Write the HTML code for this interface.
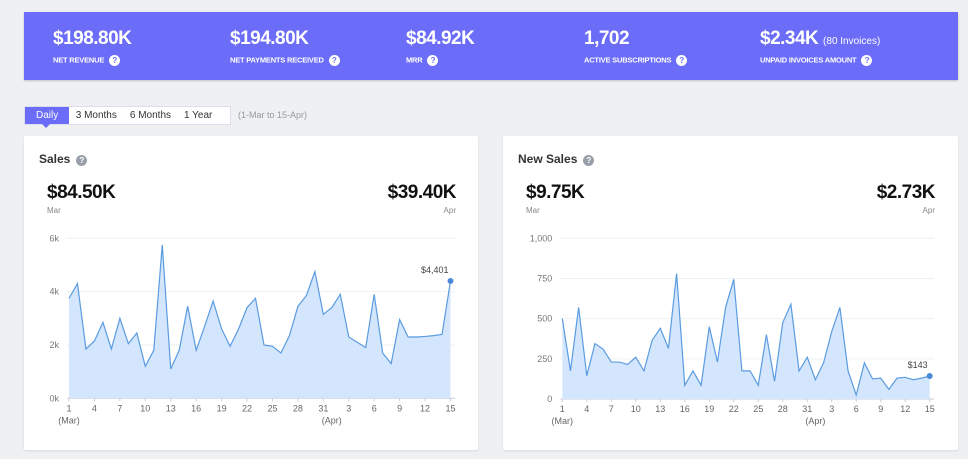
<!DOCTYPE html>
<html><head><meta charset="utf-8">
<style>
*{box-sizing:border-box;margin:0;padding:0}
body{width:968px;height:459px;background:#eef0f2;font-family:"Liberation Sans",sans-serif;position:relative;overflow:hidden;color:#222}
.abs{position:absolute}
.banner{left:24px;top:12px;width:934px;height:68px;background:#6b6cf7;box-shadow:0 1px 2px rgba(0,0,0,.2)}
.kv{position:absolute;top:16px;color:#fff;font-weight:bold;font-size:19px;letter-spacing:-.5px}
.kv small{font-size:10px;font-weight:normal;letter-spacing:0}
.kl{position:absolute;top:43px;color:#fff;font-weight:bold;font-size:7.5px;letter-spacing:-.2px;white-space:nowrap}
.q{display:inline-block;width:11px;height:11px;border-radius:50%;background:#fff;color:#6b6cf7;font-size:8px;text-align:center;line-height:11px;margin-left:5px;vertical-align:middle}
.tabs{left:24px;top:106px;height:19px;width:207px;background:#fff;border:1px solid #dde;font-size:10px;display:flex}
.tab{padding:0 6.5px;line-height:17px;color:#333;white-space:nowrap}
.tab.on{background:#6b6cf7;color:#fff;position:relative;padding:0 11px}
.tab.on:after{content:"";position:absolute;left:17px;top:17px;border:4px solid transparent;border-top-color:#6b6cf7}
.card{background:#fff;border-radius:2px;box-shadow:0 1px 2px rgba(0,0,0,.1)}
.ct{font-size:12px;font-weight:bold;color:#333}
.cq{display:inline-block;width:11px;height:11px;border-radius:50%;background:#9aa0aa;color:#fff;font-size:8px;text-align:center;line-height:11px;margin-left:6px}
.big{font-size:19px;font-weight:bold;color:#111;letter-spacing:-.5px}
.sm{font-size:8px;color:#888}
svg text{font-family:"Liberation Sans",sans-serif}
</style></head><body>
<div class="abs banner">
  <div class="kv" style="left:29px">$198.80K</div>
  <div class="kl" style="left:29px">NET REVENUE<span class="q">?</span></div>
  <div class="kv" style="left:206px">$194.80K</div>
  <div class="kl" style="left:206px">NET PAYMENTS RECEIVED<span class="q">?</span></div>
  <div class="kv" style="left:382px">$84.92K</div>
  <div class="kl" style="left:382px">MRR<span class="q">?</span></div>
  <div class="kv" style="left:560px">1,702</div>
  <div class="kl" style="left:560px">ACTIVE SUBSCRIPTIONS<span class="q">?</span></div>
  <div class="kv" style="left:736px">$2.34K <small>(80 Invoices)</small></div>
  <div class="kl" style="left:736px">UNPAID INVOICES AMOUNT<span class="q">?</span></div>
</div>
<div class="abs tabs">
  <div class="tab on">Daily</div>
  <div class="tab">3 Months</div>
  <div class="tab">6 Months</div>
  <div class="tab">1 Year</div>
</div>
<div class="abs" style="left:238px;top:110px;font-size:9px;color:#999">(1-Mar to 15-Apr)</div>

<div class="abs card" style="left:24px;top:136px;width:454px;height:314px"></div>
<div class="abs card" style="left:503px;top:136px;width:455px;height:314px"></div>
<div class="abs ct" style="left:39px;top:152px">Sales<span class="cq">?</span></div>
<div class="abs big" style="left:47px;top:182px">$84.50K</div>
<div class="abs sm" style="left:47px;top:206px">Mar</div>
<div class="abs big" style="right:512px;top:182px">$39.40K</div>
<div class="abs sm" style="right:512px;top:206px">Apr</div>
<div class="abs ct" style="left:518px;top:152px">New Sales<span class="cq">?</span></div>
<div class="abs big" style="left:526px;top:182px">$9.75K</div>
<div class="abs sm" style="left:526px;top:206px">Mar</div>
<div class="abs big" style="right:33px;top:182px">$2.73K</div>
<div class="abs sm" style="right:33px;top:206px">Apr</div>

<svg class="abs" style="left:0;top:0" width="968" height="459" id="charts"></svg>
<script>
const salesValues=[3.75,4.3,1.85,2.15,2.85,1.85,3.0,2.05,2.45,1.2,1.8,5.75,1.1,1.8,3.45,1.8,2.7,3.65,2.6,1.95,2.6,3.4,3.75,2.0,1.95,1.7,2.35,3.45,3.85,4.75,3.15,3.4,3.9,2.3,2.1,1.9,3.9,1.7,1.3,2.95,2.3,2.3,2.32,2.35,2.4,4.401];
const salesTicks=[0,2,4,6];
const salesTickLabels=["0k","2k","4k","6k"];
const newSalesValues=[500,175,570,145,345,310,230,230,215,260,175,365,440,315,780,85,175,85,450,230,570,745,175,175,85,400,110,475,590,175,260,120,225,420,570,175,25,225,125,130,60,130,135,120,130,143];
const newSalesTicks=[0,250,500,750,1000];
const newSalesTickLabels=["0","250","500","750","1,000"];
const dayLabels=["1","4","7","10","13","16","19","22","25","28","31","3","6","9","12","15"];
const lastLabels=["$4,401","$143"];

const svg=document.getElementById('charts');
const NS='http://www.w3.org/2000/svg';
function mk(tag,attrs,parent){const e=document.createElementNS(NS,tag);for(const k in attrs)e.setAttribute(k,attrs[k]);(parent||svg).appendChild(e);return e;}
function draw(name,vals,ticks,tickLabels,max,x0,x1,y0,y1,gx1,last){
  const xs=i=>x0+(x1-x0)*i/(vals.length-1);
  const ys=v=>y0-(y0-y1)*v/max;
  const g=mk('g',{});
  
  
  ticks.forEach((t,i)=>{
    const l=mk('line',{x1:x0-2,x2:gx1,y1:ys(t),y2:ys(t),stroke:i?'#eef0f2':'#ccd',"stroke-width":1},g);
    
    
    const tx=mk('text',{x:x0-10,y:ys(t)+3,"text-anchor":"end","font-size":9,fill:'#777'},g);
    tx.textContent=tickLabels[i];
    
    
  });
  let d='M'+xs(0)+','+ys(0);
  vals.forEach((v,i)=>d+='L'+xs(i)+','+ys(v));
  d+='L'+xs(vals.length-1)+','+ys(0)+'Z';
  const a=mk('path',{d:d,fill:'#d3e6fd',stroke:'none'},g);
  
  
  const p=mk('polyline',{points:vals.map((v,i)=>xs(i)+','+ys(v)).join(' '),fill:'none',stroke:'#5b9be0',"stroke-width":1.2},g);
  
  
  dayLabels.forEach((lb,k)=>{
    const i=k*3;
    const tx=mk('text',{x:xs(i),y:y0+13,"text-anchor":"middle","font-size":9,fill:'#666'},g);
    tx.textContent=lb;
    
    
    const tk=mk('line',{x1:xs(i),x2:xs(i),y1:y0,y2:y0+3,stroke:'#ccd'},g);
    
    
  });
  [['(Mar)',0],['(Apr)',31]].forEach(([t,i])=>{
    const tx=mk('text',{x:xs(i),y:y0+25,"text-anchor":"middle","font-size":9,fill:'#666'},g);
    tx.textContent=t;
    
    
  });
  const n=vals.length-1;
  const c=mk('circle',{cx:xs(n),cy:ys(vals[n]),r:3,fill:'#4a8ad8'},g);
  
  
  const lt=mk('text',{x:xs(n)-2,y:ys(vals[n])-8,"text-anchor":"end","font-size":9,fill:'#444'},g);
  lt.textContent=last;
  
  
}
draw('sales',salesValues,salesTicks,salesTickLabels,6,69,450.5,398.3,238.3,455,lastLabels[0]);
draw('new-sales',newSalesValues,newSalesTicks,newSalesTickLabels,1000,562.3,929.7,399,238.3,934,lastLabels[1]);
</script>
</body></html>
